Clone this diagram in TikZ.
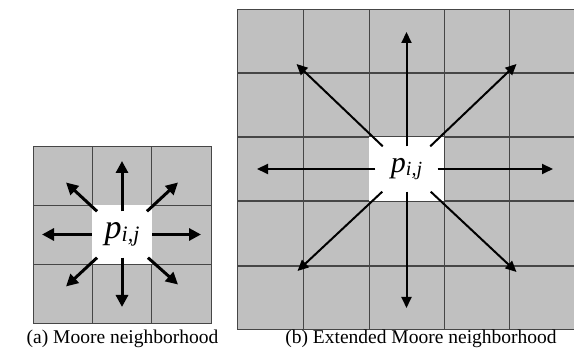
\documentclass[tikz,border=0pt]{standalone}
\usepackage{fontspec}
\setmainfont{Liberation Serif}
\usetikzlibrary{arrows.meta,calc}
\definecolor{cellgray}{RGB}{192,192,192}
\definecolor{gridline}{RGB}{70,70,70}
\tikzset{
  cellgrid/.style={draw=gridline,line width=0.9pt},
  rowline/.style={draw=gridline,line width=1.6pt},
  pnode/.style={inner sep=0pt,font=\itshape},
  moorearrow/.style={-{Triangle[length=12pt,width=12pt]},line width=3pt},
  extarrow/.style={-{Triangle[length=11pt,width=10pt]},line width=2pt},
  caption/.style={font=\fontsize{19.5}{23}\selectfont,anchor=base,inner sep=0pt}
}
\newcommand{\pij}[2]{{\fontsize{#1}{#1}\selectfont p}\raisebox{-0.22em}{\fontsize{#2}{#2}\selectfont i,j}}

\begin{document}
\begin{tikzpicture}[x=1pt,y=1pt]
  \useasboundingbox (0,0) rectangle (574,352);
  % (a) Moore neighborhood
  \fill[cellgray] (33,29) rectangle (211,206);
  \draw[cellgrid] (92.3,29) -- (92.3,206) (151.7,29) -- (151.7,206);
  \draw[cellgrid] (33,88) -- (211,88) (33,147) -- (211,147);
  \draw[cellgrid] (33,29) rectangle (211,206);
  \fill[white] (92.3,88) rectangle (151.7,147);
  \node[pnode,minimum width=60,minimum height=46] (pa) at (122,117.5) {\pij{34}{22}};
  \coordinate (a-n) at ($(pa.center)+(0,73.5)$);
  \coordinate (a-s) at ($(pa.center)+(0,-72.5)$);
  \coordinate (a-w) at ($(pa.center)+(-80,0)$);
  \coordinate (a-e) at ($(pa.center)+(79,0)$);
  \coordinate (a-nw) at ($(pa.center)+(-56,52)$);
  \coordinate (a-ne) at ($(pa.center)+(56,52)$);
  \coordinate (a-sw) at ($(pa.center)+(-56,-52)$);
  \coordinate (a-se) at ($(pa.center)+(56,-50)$);
  \foreach \tip in {a-n,a-s,a-w,a-e,a-nw,a-ne,a-sw,a-se}
    \draw[moorearrow] (pa) -- (\tip);
  \node[caption] (capa) at (122.5,8) {(a) Moore neighborhood};
  % (b) Extended Moore neighborhood
  \fill[cellgray] (237,23) rectangle (575,343);
  \draw[cellgrid] (303,23) -- (303,343) (369,23) -- (369,343)
    (444,23) -- (444,343) (509,23) -- (509,343);
  \draw[rowline] (237,86) -- (575,86) (237,151) -- (575,151)
    (237,215) -- (575,215) (237,279) -- (575,279);
  \draw[cellgrid] (237,23) rectangle (575,343);
  \fill[white] (369,151) rectangle (444,215);
  \node[pnode,minimum width=62,minimum height=45] (pb) at (406.5,183) {\pij{30}{20}};
  \coordinate (b-n) at ($(pb.center)+(0,137)$);
  \coordinate (b-s) at ($(pb.center)+(0,-139)$);
  \coordinate (b-w) at ($(pb.center)+(-149.5,0)$);
  \coordinate (b-e) at ($(pb.center)+(146.5,0)$);
  \coordinate (b-nw) at ($(pb.center)+(-110,105)$);
  \coordinate (b-ne) at ($(pb.center)+(110,105)$);
  \coordinate (b-sw) at ($(pb.center)+(-109,-102)$);
  \coordinate (b-se) at ($(pb.center)+(110,-103)$);
  \foreach \tip in {b-n,b-s,b-w,b-e,b-nw,b-ne,b-sw,b-se}
    \draw[extarrow] (pb) -- (\tip);
  \node[caption] (capb) at (421,8) {(b) Extended Moore neighborhood};
\end{tikzpicture}
\end{document}
